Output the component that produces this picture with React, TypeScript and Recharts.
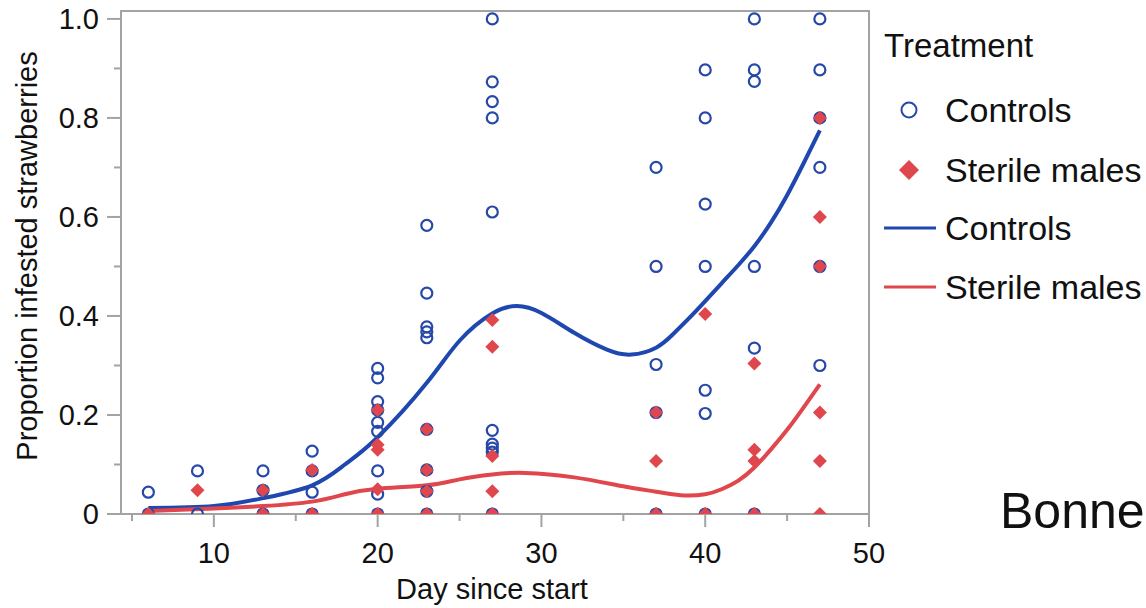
import { ComposedChart, Line, Scatter, XAxis, YAxis, ReferenceArea } from "recharts";

// raw observations: day + proportion, one entry per plot
const controlDays = [
  6, 6, 9, 9, 13, 13, 13, 16, 16, 16, 16,
  20, 20, 20, 20, 20, 20, 20, 20, 20,
  23, 23, 23, 23, 23, 23, 23, 23, 23,
  27, 27, 27, 27, 27, 27, 27, 27, 27, 27,
  37, 37, 37, 37, 37,
  40, 40, 40, 40, 40, 40, 40,
  43, 43, 43, 43, 43, 43,
  47, 47, 47, 47, 47, 47,
];
const controlVals = [
  0.044, 0, 0.087, 0, 0.087, 0.048, 0, 0.127, 0.087, 0.044, 0,
  0.294, 0.275, 0.227, 0.21, 0.185, 0.167, 0.087, 0.04, 0,
  0.583, 0.446, 0.378, 0.368, 0.356, 0.171, 0.089, 0.046, 0,
  1.0, 0.873, 0.833, 0.8, 0.61, 0.169, 0.141, 0.133, 0.125, 0,
  0.7, 0.5, 0.302, 0.205, 0,
  0.897, 0.8, 0.626, 0.5, 0.25, 0.203, 0,
  1.0, 0.897, 0.874, 0.5, 0.335, 0,
  1.0, 0.897, 0.8, 0.7, 0.5, 0.3,
];

const sterileDays = [
  6, 9, 13, 13, 16, 16,
  20, 20, 20, 20, 20,
  23, 23, 23, 23,
  27, 27, 27, 27, 27,
  37, 37, 37,
  40, 40,
  43, 43, 43, 43,
  47, 47, 47, 47, 47, 47,
];
const sterileVals = [
  0, 0.048, 0.048, 0, 0.089, 0,
  0.21, 0.14, 0.13, 0.05, 0,
  0.171, 0.089, 0.046, 0,
  0.392, 0.338, 0.117, 0.046, 0,
  0.205, 0.107, 0,
  0.404, 0,
  0.304, 0.13, 0.107, 0,
  0.8, 0.6, 0.5, 0.205, 0.107, 0,
];

// smoothing spline fits
const controlFitDays = [6, 10, 13, 16, 18, 20, 23, 25, 27, 28.5, 30, 32, 34, 35.5, 37, 38, 39, 40, 41, 42, 43, 44, 45, 46, 47];
const controlFitVals = [
  0.012, 0.016, 0.032, 0.058, 0.1, 0.155, 0.265, 0.35, 0.405, 0.42, 0.406, 0.366, 0.332, 0.322,
  0.336, 0.362, 0.395, 0.43, 0.466, 0.502, 0.541, 0.588, 0.644, 0.708, 0.775,
];
const sterileFitDays = [6, 10, 13, 16, 18, 20, 23, 25, 27, 29, 32, 35, 37, 38.5, 40, 41, 42, 43, 44, 45, 46, 47];
const sterileFitVals = [
  0.006, 0.011, 0.016, 0.025, 0.04, 0.051, 0.058, 0.07, 0.08, 0.083, 0.074, 0.056, 0.045, 0.038,
  0.04, 0.05, 0.067, 0.094, 0.13, 0.17, 0.215, 0.262,
];

const xTicks = [5, 10, 15, 20, 25, 30, 35, 40, 45, 50];
const yTicks = [0, 0.1, 0.2, 0.3, 0.4, 0.5, 0.6, 0.7, 0.8, 0.9, 1.0];

const BLUE = "#2648a8";
const BLUE_LINE = "#1f47b0";
const RED = "#e0474c";
const AXIS = "#a3a3a3";
const FONT = "'Liberation Sans', Arial, sans-serif";

const zip = (xs: number[], ys: number[]) => xs.map((x, i) => ({ x, y: ys[i] }));
const controls = zip(controlDays, controlVals);
const sterile = zip(sterileDays, sterileVals);
const controlFit = zip(controlFitDays, controlFitVals);
const sterileFit = zip(sterileFitDays, sterileFitVals);

function Ring(props: any) {
  const { cx, cy } = props;
  return <circle cx={cx} cy={cy} r={5.5} fill="none" stroke={BLUE} strokeWidth={2.2} />;
}

function Diamond(props: any) {
  const { cx, cy } = props;
  const s = 7;
  return <path d={`M${cx},${cy - s}L${cx + s},${cy}L${cx},${cy + s}L${cx - s},${cy}Z`} fill={RED} />;
}

function YTick(props: any) {
  const { x, y, payload } = props;
  const v = payload.value;
  const major = Math.round(v * 10) % 2 === 0;
  return (
    <g>
      <line x1={x - (major ? 14 : 7)} x2={x} y1={y} y2={y} stroke={AXIS} strokeWidth={2} />
      {major && (
        <text x={x - 22} y={y} textAnchor="end" dominantBaseline="central" fontSize={29} fill="#111" fontFamily={FONT}>
          {v === 0 ? "0" : v.toFixed(1)}
        </text>
      )}
    </g>
  );
}

function XTick(props: any) {
  const { x, y, payload } = props;
  const v = payload.value;
  const major = v % 10 === 0;
  return (
    <g>
      <line x1={x} x2={x} y1={y} y2={y + (major ? 13 : 7)} stroke={AXIS} strokeWidth={2} />
      {major && (
        <text x={x} y={y + 39} textAnchor="middle" dominantBaseline="central" fontSize={29} fill="#111" fontFamily={FONT}>
          {v}
        </text>
      )}
    </g>
  );
}

function LegendRow({ kind, label, top }: { kind: string; label: string; top: number }) {
  return (
    <div style={{ position: "absolute", left: 884, top, height: 40, display: "flex", alignItems: "center" }}>
      <svg width={56} height={40}>
        {kind === "ring" && <circle cx={25} cy={20} r={7.5} fill="none" stroke={BLUE} strokeWidth={2} />}
        {kind === "diamond" && <path d="M25,10L35,20L25,30L15,20Z" fill={RED} />}
        {kind === "blue" && <line x1={0} x2={52} y1={20} y2={20} stroke={BLUE_LINE} strokeWidth={3} />}
        {kind === "red" && <line x1={0} x2={52} y1={20} y2={20} stroke={RED} strokeWidth={3} />}
      </svg>
      <span style={{ marginLeft: 5, fontSize: 34, color: "#111", whiteSpace: "nowrap" }}>{label}</span>
    </div>
  );
}

export default function App() {
  return (
    <div
      style={{
        position: "absolute",
        left: 0,
        top: 0,
        width: 1146,
        height: 608,
        overflow: "hidden",
        background: "#fff",
        fontFamily: FONT,
      }}
    >
      <ComposedChart width={900} height={608} margin={{ top: 11, right: 31, left: 0, bottom: 0 }}>
        <XAxis
          type="number"
          dataKey="x"
          domain={[4.33, 50]}
          ticks={xTicks}
          tick={<XTick />}
          tickSize={0}
          tickMargin={0}
          tickLine={false}
          axisLine={{ stroke: AXIS, strokeWidth: 2 }}
          height={94}
          allowDataOverflow
        />
        <YAxis
          type="number"
          dataKey="y"
          domain={[0, 1.016]}
          ticks={yTicks}
          tick={<YTick />}
          tickSize={0}
          tickMargin={0}
          tickLine={false}
          axisLine={{ stroke: AXIS, strokeWidth: 2 }}
          width={121}
          allowDataOverflow
        />
        <ReferenceArea x1={4.33} x2={50} y1={0} y2={1.016} fill="none" stroke={AXIS} strokeWidth={2} ifOverflow="extendDomain" />
        <Scatter name="Controls" data={controls} shape={<Ring />} isAnimationActive={false} />
        <Scatter name="Sterile males" data={sterile} shape={<Diamond />} isAnimationActive={false} />
        <Line data={controlFit} dataKey="y" type="natural" stroke={BLUE_LINE} strokeWidth={4} dot={false} isAnimationActive={false} />
        <Line data={sterileFit} dataKey="y" type="natural" stroke={RED} strokeWidth={4} dot={false} isAnimationActive={false} />
      </ComposedChart>

      <div
        style={{
          position: "absolute",
          left: 27,
          top: 256,
          transform: "translate(-50%, -50%) rotate(-90deg)",
          fontSize: 29,
          color: "#111",
          whiteSpace: "nowrap",
        }}
      >
        Proportion infested strawberries
      </div>
      <div
        style={{
          position: "absolute",
          left: 492,
          top: 589,
          transform: "translate(-50%, -50%)",
          fontSize: 29,
          color: "#111",
          whiteSpace: "nowrap",
        }}
      >
        Day since start
      </div>

      <div style={{ position: "absolute", left: 884, top: 27, fontSize: 33, color: "#111" }}>Treatment</div>
      <LegendRow kind="ring" label="Controls" top={90} />
      <LegendRow kind="diamond" label="Sterile males" top={150} />
      <LegendRow kind="blue" label="Controls" top={208} />
      <LegendRow kind="red" label="Sterile males" top={267} />

      <div style={{ position: "absolute", left: 1000, top: 482, fontSize: 50, color: "#111", whiteSpace: "nowrap" }}>
        Bonne
      </div>
    </div>
  );
}
